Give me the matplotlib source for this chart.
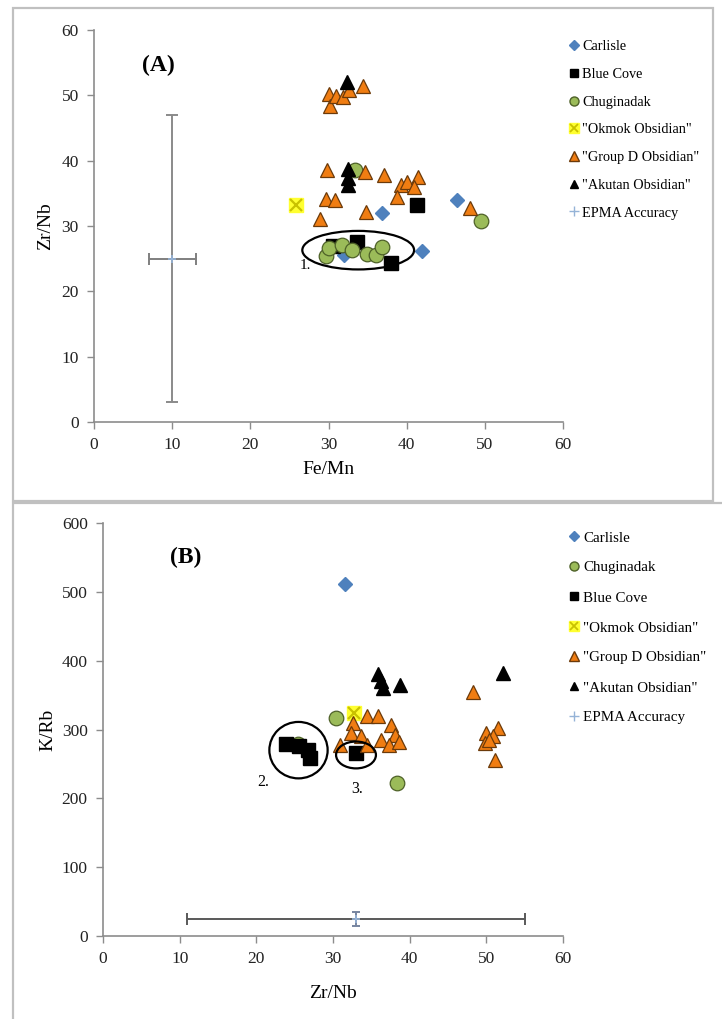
import matplotlib
matplotlib.use("Agg")
import matplotlib.pyplot as plt
from matplotlib.lines import Line2D
from matplotlib.patches import Ellipse, Rectangle

plt.rcParams['font.family'] = ['Liberation Serif', 'DejaVu Serif']

# ---------------- Panel A data (Fe/Mn vs Zr/Nb) ----------------
a_carlisle_x = [36.8, 46.5, 41.9, 32.0]
a_carlisle_y = [32.0, 34.0, 26.2, 25.6]
a_bluecove_x = [41.3, 38.0, 33.6, 30.6]
a_bluecove_y = [33.2, 24.3, 27.6, 27.0]
a_chug_x = [33.4, 49.5, 29.7, 30.0, 31.7, 33.0, 34.9, 36.1, 36.9]
a_chug_y = [38.5, 30.8, 25.4, 26.6, 27.1, 26.4, 25.7, 25.6, 26.8]
a_okmok_x = [25.9]
a_okmok_y = [33.2]
a_groupd_x = [30.0, 30.2, 31.0, 31.9, 32.6, 34.4,
              29.8, 34.7, 37.1, 39.3, 40.0, 41.5, 40.9, 38.7, 29.7, 30.8, 28.9, 34.8, 48.1]
a_groupd_y = [50.2, 48.4, 49.9, 49.8, 50.8, 51.4,
              38.6, 38.3, 37.8, 36.2, 36.8, 37.5, 35.9, 34.5, 34.2, 34.0, 31.0, 32.2, 32.7]
a_akutan_x = [32.4, 32.5, 32.5, 32.5]
a_akutan_y = [52.0, 38.7, 37.4, 36.2]
a_epma_x, a_epma_y = 10, 25
a_epma_xerr, a_epma_yerr = 3, 22

# ---------------- Panel B data (Zr/Nb vs K/Rb) ----------------
b_carlisle_x = [31.5]
b_carlisle_y = [511]
b_chug_x = [30.4, 38.3, 25.4]
b_chug_y = [316, 222, 279]
b_bluecove_x = [23.9, 25.5, 26.8, 27.0, 33.0]
b_bluecove_y = [279, 276, 270, 259, 266]
b_okmok_x = [32.7]
b_okmok_y = [324]
b_groupd_x = [48.2, 32.6, 34.4, 35.9, 37.6, 32.4, 33.7, 36.3, 38.1, 37.3, 38.6, 30.9, 34.4,
              50.0, 51.5, 49.8, 50.9, 51.1, 50.3]
b_groupd_y = [355, 309, 319, 319, 307, 295, 290, 285, 292, 278, 282, 278, 278,
              295, 302, 281, 290, 256, 285]
b_akutan_x = [35.9, 36.3, 36.5, 38.8, 52.2]
b_akutan_y = [381, 370, 361, 365, 382]
b_epma_x, b_epma_y = 33, 25
b_epma_xerr, b_epma_yerr = 22, 10

x_ticks = [0, 10, 20, 30, 40, 50, 60]
a_y_ticks = [0, 10, 20, 30, 40, 50, 60]
b_y_ticks = [0, 100, 200, 300, 400, 500, 600]

# ---------------- styles ----------------
C_BLUE = '#4F81BD'
C_GREEN = '#9BBB59'
C_GREEN_E = '#4E6128'
C_ORANGE = '#F07D12'
C_ORANGE_E = '#6B3A0A'
C_YELLOW = '#FFFF30'
C_YELLOW_X = '#C9C200'
C_EPMA = '#95B3D7'
C_AXIS = '#8C8C8C'

fig = plt.figure(figsize=(7.22, 10.19), dpi=100)
W, H = 722, 1019


def fx(px):
    return px / W


def fy(py):
    return 1 - py / H


# panel frames
fig.patches.append(Rectangle((fx(13), fy(501)), fx(713) - fx(13), fy(8) - fy(501),
                             transform=fig.transFigure, fill=False, ec='#C0C0C0', lw=1.6))
fig.patches.append(Rectangle((fx(13), fy(1030)), fx(740) - fx(13), fy(503) - fy(1030),
                             transform=fig.transFigure, fill=False, ec='#C0C0C0', lw=1.6))

axA = fig.add_axes([fx(94), fy(422), fx(563) - fx(94), fy(30) - fy(422)])
axB = fig.add_axes([fx(103), fy(936), fx(563) - fx(103), fy(523) - fy(936)])

for ax in (axA, axB):
    ax.set_facecolor('none')
    for s in ('top', 'right'):
        ax.spines[s].set_visible(False)
    for s in ('left', 'bottom'):
        ax.spines[s].set_color(C_AXIS)
        ax.spines[s].set_linewidth(1.2)
    ax.tick_params(direction='out', length=5, color=C_AXIS, width=1, labelsize=12.5,
                   labelcolor='#222222', pad=6)
    ax.set_xlim(0, 60)
    ax.set_xticks(x_ticks)

axA.set_ylim(0, 60)
axA.set_yticks(a_y_ticks)
axB.set_ylim(0, 600)
axB.set_yticks(b_y_ticks)


def draw_series(ax, d, z):
    ax.plot(d['carlisle'][0], d['carlisle'][1], 'D', ms=7.5, color=C_BLUE, mec=C_BLUE, ls='none',
            zorder=z['carlisle'])
    ax.plot(d['bluecove'][0], d['bluecove'][1], 's', ms=10.5, color='black', ls='none',
            zorder=z['bluecove'])
    ax.plot(d['chug'][0], d['chug'][1], 'o', ms=10.5, color=C_GREEN, mec=C_GREEN_E, mew=0.9, ls='none',
            zorder=z['chug'])
    ax.plot(d['okmok'][0], d['okmok'][1], 's', ms=10.5, color=C_YELLOW, mec=C_YELLOW, ls='none', zorder=6)
    ax.plot(d['okmok'][0], d['okmok'][1], 'x', ms=8, mew=1.6, color=C_YELLOW_X, ls='none', zorder=6)
    ax.plot(d['groupd'][0], d['groupd'][1], '^', ms=9.5, color=C_ORANGE, mec=C_ORANGE_E, mew=0.9, ls='none',
            zorder=7)
    ax.plot(d['akutan'][0], d['akutan'][1], '^', ms=9.5, color='black', ls='none', zorder=8)


draw_series(axA, {'carlisle': (a_carlisle_x, a_carlisle_y), 'bluecove': (a_bluecove_x, a_bluecove_y),
                  'chug': (a_chug_x, a_chug_y), 'okmok': (a_okmok_x, a_okmok_y),
                  'groupd': (a_groupd_x, a_groupd_y), 'akutan': (a_akutan_x, a_akutan_y)},
            {'carlisle': 3, 'bluecove': 4, 'chug': 5})
draw_series(axB, {'carlisle': (b_carlisle_x, b_carlisle_y), 'bluecove': (b_bluecove_x, b_bluecove_y),
                  'chug': (b_chug_x, b_chug_y), 'okmok': (b_okmok_x, b_okmok_y),
                  'groupd': (b_groupd_x, b_groupd_y), 'akutan': (b_akutan_x, b_akutan_y)},
            {'carlisle': 3, 'chug': 4, 'bluecove': 5})

# EPMA accuracy error bars
axA.errorbar([a_epma_x], [a_epma_y], xerr=[a_epma_xerr], fmt='none', ecolor='#7F7F7F',
             elinewidth=1.4, capsize=4, capthick=1.4, zorder=2)
axA.errorbar([a_epma_x], [a_epma_y], yerr=[a_epma_yerr], fmt='none', ecolor='#8A8A8A',
             elinewidth=1.4, capsize=4, capthick=1.4, zorder=2)
axA.plot([a_epma_x], [a_epma_y], '+', ms=6, color=C_EPMA, mew=1.2, zorder=3)

axB.errorbar([b_epma_x], [b_epma_y], xerr=[b_epma_xerr], fmt='none', ecolor='#595959',
             elinewidth=1.4, capsize=4, capthick=1.4, zorder=2)
axB.errorbar([b_epma_x], [b_epma_y], yerr=[b_epma_yerr], fmt='none', ecolor='#7785A0',
             elinewidth=1.4, capsize=3, capthick=1.4, zorder=2)
axB.plot([b_epma_x], [b_epma_y], '+', ms=6, color=C_EPMA, mew=1.2, zorder=3)

# ellipses and annotations
axA.add_patch(Ellipse((33.8, 26.3), 14.3, 5.9, fill=False, ec='black', lw=1.6, zorder=9))
axA.text(27.0, 24.0, '1.', fontsize=11, ha='center', va='center', zorder=10)
axB.add_patch(Ellipse((25.5, 270), 7.6, 82, fill=False, ec='black', lw=1.6, zorder=9))
axB.add_patch(Ellipse((33.0, 263), 5.2, 39, fill=False, ec='black', lw=1.6, zorder=9))
axB.text(20.9, 224, '2.', fontsize=11.5, ha='center', va='center', zorder=10)
axB.text(33.1, 214, '3.', fontsize=11.5, ha='center', va='center', zorder=10)

# panel labels and axis titles
fig.text(fx(158), fy(65), '(A)', fontsize=17, fontweight='bold', ha='center', va='center')
fig.text(fx(186), fy(557), '(B)', fontsize=17, fontweight='bold', ha='center', va='center')
fig.text(fx(46), fy(226), 'Zr/Nb', fontsize=14, rotation=90, ha='center', va='center')
fig.text(fx(328), fy(470), 'Fe/Mn', fontsize=14, ha='center', va='center')
fig.text(fx(48), fy(730), 'K/Rb', fontsize=14, rotation=90, ha='center', va='center')
fig.text(fx(333), fy(993), 'Zr/Nb', fontsize=14, ha='center', va='center')


# legends
def h_carlisle():
    return Line2D([], [], marker='D', ls='none', ms=5, color=C_BLUE)


def h_bluecove():
    return Line2D([], [], marker='s', ls='none', ms=6, color='black')


def h_chug():
    return Line2D([], [], marker='o', ls='none', ms=6.5, color=C_GREEN, mec=C_GREEN_E)


def h_okmok():
    return (Line2D([], [], marker='s', ls='none', ms=7, color=C_YELLOW, mec=C_YELLOW),
            Line2D([], [], marker='x', ls='none', ms=5.5, mew=1.3, color=C_YELLOW_X))


def h_groupd():
    return Line2D([], [], marker='^', ls='none', ms=6.5, color=C_ORANGE, mec=C_ORANGE_E)


def h_akutan():
    return Line2D([], [], marker='^', ls='none', ms=6, color='black')


def h_epma():
    return Line2D([], [], marker='+', ls='none', ms=7, mew=1, color=C_EPMA)


labelsA = ['Carlisle', 'Blue Cove', 'Chuginadak', '"Okmok Obsidian"', '"Group D Obsidian"',
           '"Akutan Obsidian"', 'EPMA Accuracy']
handlesA = [h_carlisle(), h_bluecove(), h_chug(), h_okmok(), h_groupd(), h_akutan(), h_epma()]
labelsB = ['Carlisle', 'Chuginadak', 'Blue Cove', '"Okmok Obsidian"', '"Group D Obsidian"',
           '"Akutan Obsidian"', 'EPMA Accuracy']
handlesB = [h_carlisle(), h_chug(), h_bluecove(), h_okmok(), h_groupd(), h_akutan(), h_epma()]

fig.legend(handlesA, labelsA, loc='upper left', bbox_to_anchor=(fx(568), fy(40)),
           frameon=False, fontsize=10.3, handlelength=0.8, handletextpad=0.2,
           labelspacing=1.03, borderaxespad=0, borderpad=0)
fig.legend(handlesB, labelsB, loc='upper left', bbox_to_anchor=(fx(568), fy(531)),
           frameon=False, fontsize=10.8, handlelength=0.8, handletextpad=0.2,
           labelspacing=1.1, borderaxespad=0, borderpad=0)

fig.savefig('out.png', dpi=100)
